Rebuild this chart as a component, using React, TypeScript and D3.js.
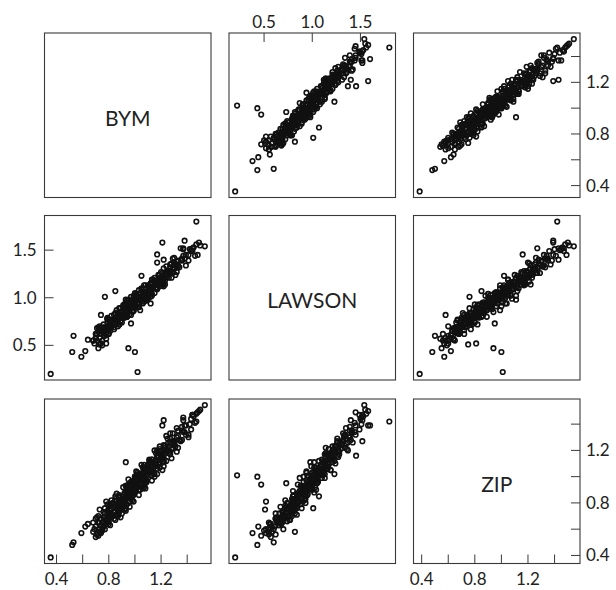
import * as d3 from 'd3'

const width = 616
const height = 590

const variables = ['BYM', 'LAWSON', 'ZIP']

// every county is [BYM, LAWSON, ZIP]
const tailCounties = [
  [0.72, 0.47, 0.55], [0.74, 0.52, 0.57], [0.73, 0.58, 0.58], [0.75, 0.55, 0.60],
  [0.76, 0.61, 0.62], [0.71, 0.62, 0.56], [0.74, 0.66, 0.63], [0.77, 0.60, 0.60],
  [0.68, 0.55, 0.58], [0.69, 0.52, 0.60], [0.70, 0.58, 0.62], [0.72, 0.64, 0.65],
  [0.75, 0.50, 0.59], [0.78, 0.57, 0.64],
]

const bandLow = [
  [0.78, 0.68, 0.66], [0.85, 0.76, 0.67], [0.74, 0.62, 0.68], [0.89, 0.75, 0.69],
  [0.72, 0.69, 0.70], [0.85, 0.84, 0.71], [0.80, 0.62, 0.72], [0.88, 0.72, 0.73],
  [0.79, 0.79, 0.74], [0.87, 0.82, 0.75], [0.76, 0.63, 0.66], [0.80, 0.70, 0.68],
  [0.87, 0.79, 0.70], [0.77, 0.66, 0.72], [0.93, 0.80, 0.74], [0.71, 0.68, 0.69],
  [0.87, 0.70, 0.71], [0.79, 0.78, 0.73],
  [0.89, 0.89, 0.76], [0.84, 0.67, 0.77], [0.87, 0.80, 0.78], [0.94, 0.88, 0.79],
  [0.83, 0.74, 0.80], [0.99, 0.87, 0.81], [0.82, 0.81, 0.82], [0.97, 0.82, 0.83],
  [0.88, 0.89, 0.84], [0.96, 0.93, 0.85], [0.84, 0.73, 0.76], [0.81, 0.72, 0.78],
  [0.92, 0.93, 0.80], [0.88, 0.72, 0.82], [0.93, 0.86, 0.84], [0.96, 0.83, 0.77],
  [0.79, 0.78, 0.79], [0.96, 0.90, 0.81], [0.90, 0.80, 0.83], [0.88, 0.80, 0.85],
  [0.89, 0.82, 0.80], [0.90, 0.74, 0.75],
  [1.03, 0.93, 0.86], [0.86, 0.87, 0.87], [0.99, 1.02, 0.88], [0.94, 0.80, 0.89],
  [1.03, 0.90, 0.90], [0.94, 0.97, 0.91], [1.02, 1.00, 0.92], [0.98, 0.91, 0.93],
  [1.01, 0.97, 0.94], [1.08, 1.05, 0.95], [0.88, 0.81, 0.86], [0.96, 0.91, 0.88],
  [1.04, 1.00, 0.90], [0.91, 0.92, 0.92], [0.98, 0.85, 0.94], [0.97, 0.95, 0.87],
  [0.95, 0.87, 0.89], [1.08, 0.98, 0.91], [0.94, 0.88, 0.93], [0.97, 1.01, 0.95],
  [1.01, 1.04, 0.90], [0.99, 0.86, 0.86],
]

const bandHigh = [
  [0.97, 0.91, 0.96], [1.13, 1.04, 0.97], [0.95, 0.98, 0.98], [1.08, 1.13, 0.99],
  [1.03, 0.91, 1.00], [1.12, 1.01, 1.01], [1.03, 1.08, 1.02], [1.11, 1.11, 1.03],
  [1.08, 1.02, 1.04], [1.11, 1.08, 1.05], [1.09, 1.06, 0.96], [1.04, 1.01, 0.98],
  [1.00, 0.95, 1.00], [1.17, 1.09, 1.02], [1.01, 1.04, 1.04], [1.09, 0.97, 0.97],
  [1.00, 1.05, 0.99], [1.13, 1.11, 1.01], [1.06, 0.94, 1.03], [1.14, 1.19, 1.05],
  [1.17, 1.16, 1.06], [1.06, 1.02, 1.07], [1.22, 1.15, 1.08], [1.05, 1.09, 1.09],
  [1.18, 1.24, 1.10], [1.13, 1.02, 1.11], [1.22, 1.12, 1.12], [1.13, 1.19, 1.13],
  [1.21, 1.22, 1.14], [1.18, 1.14, 1.15], [1.11, 1.09, 1.06], [1.10, 0.99, 1.08],
  [1.15, 1.13, 1.10], [1.11, 1.07, 1.12], [1.28, 1.21, 1.14], [1.07, 1.13, 1.07],
  [1.16, 1.17, 1.09], [1.22, 1.21, 1.11],
  [1.20, 1.20, 1.16], [1.27, 1.28, 1.17], [1.16, 1.14, 1.18], [1.32, 1.27, 1.19],
  [1.15, 1.21, 1.20], [1.28, 1.36, 1.21], [1.23, 1.14, 1.22], [1.31, 1.24, 1.23],
  [1.22, 1.31, 1.24], [1.30, 1.35, 1.25], [1.19, 1.16, 1.17], [1.23, 1.23, 1.19],
  [1.19, 1.17, 1.21], [1.26, 1.27, 1.23],
  [1.27, 1.26, 1.26], [1.30, 1.32, 1.27], [1.36, 1.40, 1.28], [1.25, 1.26, 1.29],
  [1.41, 1.39, 1.30], [1.24, 1.33, 1.31], [1.39, 1.34, 1.32], [1.29, 1.41, 1.33],
  [1.37, 1.44, 1.34], [1.36, 1.41, 1.35],
  [1.43, 1.49, 1.36], [1.32, 1.35, 1.37], [1.36, 1.39, 1.38], [1.39, 1.45, 1.39],
  [1.42, 1.51, 1.40], [1.46, 1.44, 1.41], [1.37, 1.52, 1.43], [1.43, 1.50, 1.44],
  [1.45, 1.53, 1.46], [1.47, 1.56, 1.48], [1.44, 1.49, 1.47], [1.49, 1.58, 1.50],
  [1.50, 1.55, 1.51],
]

const bandCore = [
  [0.80, 0.68, 0.64], [0.75, 0.65, 0.65], [0.79, 0.74, 0.66], [0.78, 0.63, 0.67],
  [0.84, 0.69, 0.68], [0.76, 0.72, 0.69], [0.81, 0.75, 0.70], [0.82, 0.70, 0.71],
  [0.90, 0.82, 0.72], [0.76, 0.69, 0.73], [0.87, 0.78, 0.74], [0.82, 0.75, 0.75],
  [0.87, 0.84, 0.76], [0.86, 0.73, 0.77], [0.91, 0.79, 0.78], [0.84, 0.82, 0.79],
  [0.89, 0.85, 0.80], [0.90, 0.80, 0.81], [0.98, 0.92, 0.82], [0.85, 0.79, 0.83],
  [0.96, 0.88, 0.84], [0.91, 0.86, 0.85], [0.95, 0.95, 0.86], [0.94, 0.84, 0.87],
  [1.00, 0.90, 0.88], [0.93, 0.93, 0.89], [0.98, 0.96, 0.90], [0.99, 0.91, 0.91],
  [1.07, 1.03, 0.92], [0.93, 0.90, 0.93], [1.04, 0.99, 0.94], [0.99, 0.96, 0.95],
  [1.04, 1.05, 0.96], [1.03, 0.94, 0.97], [1.08, 1.00, 0.98], [1.01, 1.03, 0.99],
  [1.06, 1.06, 1.00], [1.07, 1.01, 1.01], [1.15, 1.13, 1.02], [1.02, 1.00, 1.03],
  [1.13, 1.09, 1.04], [1.08, 1.06, 1.05], [1.12, 1.15, 1.06], [1.11, 1.04, 1.07],
  [1.17, 1.10, 1.08], [1.10, 1.13, 1.09], [1.15, 1.16, 1.10], [1.16, 1.11, 1.11],
  [1.24, 1.23, 1.12], [1.11, 1.10, 1.13], [1.22, 1.19, 1.14], [1.17, 1.17, 1.15],
  [1.21, 1.26, 1.16], [1.20, 1.15, 1.17], [1.26, 1.21, 1.18], [1.19, 1.24, 1.19],
  [1.24, 1.27, 1.20], [1.25, 1.22, 1.21], [1.33, 1.34, 1.22], [1.19, 1.21, 1.23],
  [1.30, 1.30, 1.24], [1.25, 1.28, 1.25], [1.30, 1.37, 1.26], [1.29, 1.26, 1.27],
  [1.34, 1.32, 1.28], [1.27, 1.35, 1.29], [1.32, 1.38, 1.30], [1.33, 1.33, 1.31],
  [1.41, 1.45, 1.32], [1.27, 1.32, 1.33], [1.38, 1.41, 1.34], [1.33, 1.39, 1.35],
]

const bandMiddle = [
  [0.81, 0.65, 0.63], [0.73, 0.67, 0.65], [0.79, 0.77, 0.67], [0.80, 0.63, 0.69],
  [0.86, 0.78, 0.71], [0.79, 0.70, 0.73], [0.92, 0.79, 0.75], [0.80, 0.77, 0.77],
  [0.93, 0.81, 0.79], [0.85, 0.83, 0.81], [0.92, 0.93, 0.83], [0.94, 0.80, 0.85],
  [0.99, 0.95, 0.87], [0.93, 0.87, 0.89], [1.06, 0.96, 0.91], [0.93, 0.94, 0.93],
  [1.07, 0.98, 0.95], [0.99, 1.00, 0.97], [1.05, 1.10, 0.99], [1.07, 0.96, 1.01],
  [1.13, 1.11, 1.03], [1.07, 1.03, 1.05], [1.19, 1.12, 1.07], [1.07, 1.10, 1.09],
  [1.21, 1.14, 1.11], [1.13, 1.16, 1.13], [1.20, 1.27, 1.15], [1.21, 1.13, 1.17],
  [1.27, 1.28, 1.19],
]

const bandCentre = [
  [0.80, 0.69, 0.655], [0.77, 0.69, 0.675], [0.82, 0.69, 0.695], [0.81, 0.77, 0.715],
  [0.88, 0.80, 0.735], [0.81, 0.74, 0.755], [0.89, 0.81, 0.775], [0.87, 0.81, 0.795],
  [0.91, 0.81, 0.815], [0.91, 0.89, 0.835], [0.98, 0.92, 0.855], [0.92, 0.86, 0.875],
  [1.00, 0.93, 0.895], [0.97, 0.94, 0.915], [1.02, 0.94, 0.935], [1.01, 1.02, 0.955],
  [1.08, 1.05, 0.975], [1.02, 0.99, 0.995], [1.09, 1.06, 1.015], [1.07, 1.06, 1.035],
  [1.12, 1.06, 1.055], [1.12, 1.14, 1.075], [1.19, 1.17, 1.095], [1.12, 1.11, 1.115],
  [1.20, 1.18, 1.135], [1.18, 1.18, 1.155], [1.23, 1.18, 1.175], [1.23, 1.26, 1.195],
  [1.29, 1.30, 1.215], [1.23, 1.24, 1.235], [1.30, 1.31, 1.255],
]

const outlierCounties = [
  [0.355, 0.2, 0.385], [1.02, 0.22, 1.01], [1.0, 0.43, 1.0], [0.95, 0.47, 0.94],
  [0.59, 0.38, 0.57], [0.62, 0.44, 0.62], [0.52, 0.43, 0.48], [0.53, 0.6, 0.5],
  [0.97, 0.73, 0.95], [0.77, 1.01, 0.76], [0.85, 1.07, 0.85], [0.74, 0.82, 0.58],
  [1.12, 0.94, 1.04], [1.04, 0.87, 0.99], [1.21, 1.19, 1.05], [1.05, 1.23, 1.02],
  [1.22, 1.4, 1.43], [1.17, 1.455, 1.16], [1.3, 1.42, 1.26], [1.21, 1.58, 1.39],
  [1.35, 1.52, 1.27], [1.37, 1.51, 1.45], [1.38, 1.6, 1.39], [1.44, 1.52, 1.47],
  [1.47, 1.8, 1.42], [1.535, 1.54, 1.545], [1.48, 1.45, 1.49], [0.93, 0.98, 1.11],
  [1.06, 1.0, 0.93], [1.15, 1.05, 1.0], [0.93, 0.8, 0.76], [0.73, 0.51, 0.75],
  [0.78, 0.52, 0.81], [0.7, 0.57, 0.54], [0.71, 0.55, 0.56], [0.64, 0.56, 0.64],
  [0.7, 0.62, 0.68], [0.73, 0.7, 0.6], [1.17, 1.37, 1.2], [0.68, 0.55, 0.65],
]

const fineTicks = [0.4, 0.6, 0.8, 1.0, 1.2, 1.4]
const fineLabels = [0.4, 0.8, 1.2]
const lawsonTicks = [0.5, 1.0, 1.5]

const counties = [
  ...tailCounties, ...bandLow, ...bandHigh, ...bandCore, ...bandMiddle,
  ...bandCentre, ...outlierCounties,
]

const colLeft = [44.5, 229, 413.5]
const rowTop = [33, 215.5, 399]
const panelW = 166.5
const panelH = 164.5
const tickLen = 9
const ink = '#3a3a3a'
const font = 'Lato, "Open Sans", sans-serif'
const fmt = d3.format('.1f')

// R style: 4% padding on each side of the data range
const domains = variables.map((_, k) => {
  const [lo, hi] = d3.extent(counties, d => d[k]) as [number, number]
  const pad = (hi - lo) * 0.04
  return [lo - pad, hi + pad]
})

const xScales = colLeft.map((left, j) =>
  d3.scaleLinear().domain(domains[j]).range([left, left + panelW])
)
const yScales = rowTop.map((top, i) =>
  d3.scaleLinear().domain(domains[i]).range([top + panelH, top])
)

const tickSets = [
  { ticks: fineTicks, labels: fineLabels },
  { ticks: lawsonTicks, labels: lawsonTicks },
  { ticks: fineTicks, labels: fineLabels },
]

function App() {
  const panels = []
  for (let i = 0; i < 3; i++) {
    for (let j = 0; j < 3; j++) {
      const left = colLeft[j]
      const top = rowTop[i]
      panels.push(
        <g key={`p${i}${j}`}>
          {i === j ? (
            <text
              x={left + panelW / 2}
              y={top + panelH / 2 + 10.5}
              textAnchor="middle"
              fontSize={21}
              fill="#222"
            >{variables[i]}</text>
          ) : (
            counties.map((d, n) => (
              <circle
                key={n}
                cx={xScales[j](d[j])}
                cy={yScales[i](d[i])}
                r={2.3}
                fill="none"
                stroke="#111"
                strokeWidth={1.6}
              />
            ))
          )}
          <rect x={left} y={top} width={panelW} height={panelH} fill="none" stroke={ink} strokeWidth={1.1} />
        </g>
      )
    }
  }

  // top axis (col 2), bottom axes (cols 1 and 3), left axis (row 2), right axes (rows 1 and 3)
  const topAxis = tickSets[1].ticks.map(t => {
    const x = xScales[1](t)
    return (
      <g key={`t${t}`}>
        <line x1={x} x2={x} y1={rowTop[0]} y2={rowTop[0] + tickLen} stroke={ink} />
        {tickSets[1].labels.includes(t) && (
          <text x={x} y={rowTop[0] - 5} textAnchor="middle" fontSize={17} fill="#222">{fmt(t)}</text>
        )}
      </g>
    )
  })

  const bottom = rowTop[2] + panelH
  const bottomAxes = [0, 2].map(j =>
    tickSets[j].ticks.map(t => {
      const x = xScales[j](t)
      return (
        <g key={`b${j}${t}`}>
          <line x1={x} x2={x} y1={bottom} y2={bottom - tickLen} stroke={ink} />
          {tickSets[j].labels.includes(t) && (
            <text x={x} y={bottom + 21.5} textAnchor="middle" fontSize={17} fill="#222">{fmt(t)}</text>
          )}
        </g>
      )
    })
  )

  const leftAxis = tickSets[1].ticks.map(t => {
    const y = yScales[1](t)
    return (
      <g key={`l${t}`}>
        <line x1={colLeft[0]} x2={colLeft[0] + tickLen} y1={y} y2={y} stroke={ink} />
        <text x={colLeft[0] - 8} y={y + 6} textAnchor="end" fontSize={17} fill="#222">{fmt(t)}</text>
      </g>
    )
  })

  const right = colLeft[2] + panelW
  const rightAxes = [0, 2].map(i =>
    tickSets[i].ticks.map(t => {
      const y = yScales[i](t)
      return (
        <g key={`r${i}${t}`}>
          <line x1={right} x2={right - tickLen} y1={y} y2={y} stroke={ink} />
          {tickSets[i].labels.includes(t) && (
            <text x={right + 6} y={y + 6} textAnchor="start" fontSize={17} fill="#222">{fmt(t)}</text>
          )}
        </g>
      )
    })
  )

  return (
    <svg
      width={width}
      height={height}
      style={{ position: 'absolute', left: 0, top: 0, background: '#fff', fontFamily: font }}
    >
      {panels}
      {topAxis}
      {bottomAxes}
      {leftAxis}
      {rightAxes}
    </svg>
  )
}

export default App
